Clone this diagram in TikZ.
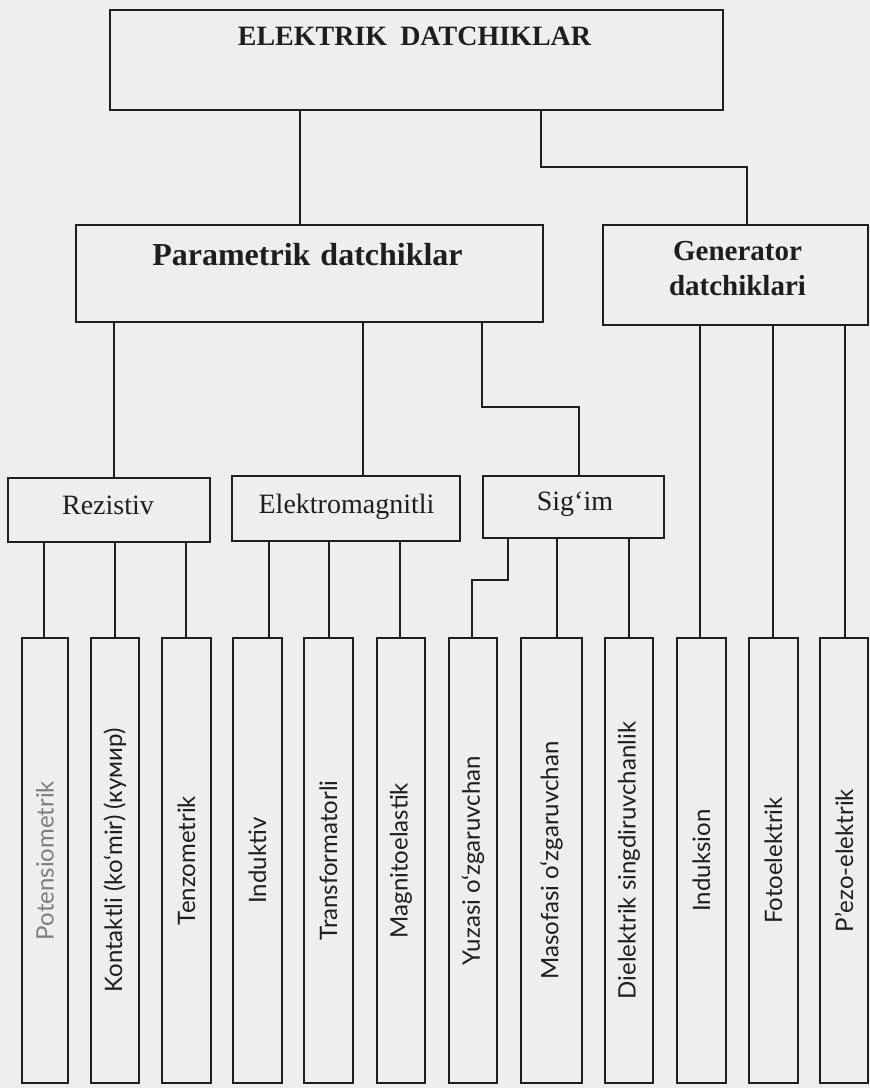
\documentclass[tikz,border=0pt]{standalone}
\usepackage{fontspec}
\setmainfont{Liberation Serif}
\newfontfamily\leaffont{Lato}
\definecolor{paper}{RGB}{238,237,240}
\definecolor{ink}{RGB}{30,30,32}
\definecolor{faded}{RGB}{125,125,130}
\begin{document}
\begin{tikzpicture}[x=1pt,y=-1pt,
  box/.style={draw=ink, line width=1.6pt, rectangle, inner sep=0pt},
  leaf/.style={box, minimum height=445pt, font=\leaffont\fontsize{24}{24}\selectfont, text=ink},
  wire/.style={draw=ink, line width=1.5pt},
  boldtxt/.style={font=\bfseries\fontsize{#1}{#1}\selectfont, text=ink, anchor=base, inner sep=0pt},
  plaintxt/.style={font=\fontsize{28}{28}\selectfont, text=ink, anchor=base, inner sep=0pt}
]
\fill[paper] (0,0) rectangle (870,1088);
\useasboundingbox (0,0) rectangle (870,1088);

% boxes
\node[box, minimum width=613pt, minimum height=100pt] (top) at (416.5,60) {};
\node[box, minimum width=467pt, minimum height=97pt] (param) at (309.5,273.5) {};
\node[box, minimum width=265pt, minimum height=100pt] (gen) at (735.5,275) {};
\node[box, minimum width=202pt, minimum height=64pt] (rez) at (109,510) {};
\node[box, minimum width=228pt, minimum height=65pt] (elm) at (346,508.5) {};
\node[box, minimum width=181pt, minimum height=62pt] (sig) at (573.5,507) {};

% texts
\node[boldtxt=28] (ttop) at (414.5,45) {ELEKTRIK\hspace{13pt}DATCHIKLAR};
\node[boldtxt=32] (tparam) at (307.5,265) {Parametrik\hspace{10pt}datchiklar};
\node[boldtxt=29] (tgen1) at (737.5,260) {Generator};
\node[boldtxt=29] (tgen2) at (737.5,295) {datchiklari};
\node[plaintxt] (trez) at (108,514) {Rezistiv};
\node[plaintxt] (telm) at (346.5,513) {Elektromagnitli};
\node[plaintxt] (tsig) at (575,510) {Sig‘im};

% leaves
\node[leaf, minimum width=46pt] (l1) at (45,860.5) {\rotatebox{90}{\textcolor{faded}{Potensiometrik}}};
\node[leaf, minimum width=48pt] (l2) at (115,860.5) {\rotatebox{90}{Kontaktli (ko‘mir) (кумир)}};
\node[leaf, minimum width=49pt] (l3) at (186.5,860.5) {\rotatebox{90}{Tenzometrik}};
\node[leaf, minimum width=49pt] (l4) at (257.5,860.5) {\rotatebox{90}{Induktiv}};
\node[leaf, minimum width=49pt] (l5) at (328.5,860.5) {\rotatebox{90}{Transformatorli}};
\node[leaf, minimum width=48pt] (l6) at (401,860.5) {\rotatebox{90}{Magnitoelastik}};
\node[leaf, minimum width=48pt] (l7) at (473,860.5) {\rotatebox{90}{Yuzasi o‘zgaruvchan}};
\node[leaf, minimum width=61pt] (l8) at (551.5,860.5) {\rotatebox{90}{Masofasi o‘zgaruvchan}};
\node[leaf, minimum width=48pt] (l9) at (629,860.5) {\rotatebox{90}{Dielektrik singdiruvchanlik}};
\node[leaf, minimum width=49pt] (l10) at (701.5,860.5) {\rotatebox{90}{Induksion}};
\node[leaf, minimum width=49pt] (l11) at (773.5,860.5) {\rotatebox{90}{Fotoelektrik}};
\node[leaf, minimum width=48pt] (l12) at (844,860.5) {\rotatebox{90}{P’ezo-elektrik}};

% connector coordinates
\coordinate (xa) at (300,0);
\coordinate (g1) at (541,167);
\coordinate (g2) at (747,167);
\coordinate (xr) at (114,0);
\coordinate (xe) at (363,0);
\coordinate (s1) at (482,407);
\coordinate (s2) at (579,407);
\coordinate (x1) at (44,0);
\coordinate (x2) at (115,0);
\coordinate (x3) at (186,0);
\coordinate (x4) at (269,0);
\coordinate (x5) at (329,0);
\coordinate (x6) at (400,0);
\coordinate (y1) at (508,580);
\coordinate (y2) at (472,580);
\coordinate (x8) at (557,0);
\coordinate (x9) at (629,0);
\coordinate (x10) at (700,0);
\coordinate (x11) at (773,0);
\coordinate (x12) at (845,0);

% connectors
\draw[wire] (top.south -| xa) -- (param.north -| xa);
\draw[wire] (top.south -| g1) -- (g1) -- (g2) -- (gen.north -| g2);
\draw[wire] (param.south -| xr) -- (rez.north -| xr);
\draw[wire] (param.south -| xe) -- (elm.north -| xe);
\draw[wire] (param.south -| s1) -- (s1) -- (s2) -- (sig.north -| s2);
\draw[wire] (rez.south -| x1) -- (l1.north -| x1);
\draw[wire] (rez.south -| x2) -- (l2.north -| x2);
\draw[wire] (rez.south -| x3) -- (l3.north -| x3);
\draw[wire] (elm.south -| x4) -- (l4.north -| x4);
\draw[wire] (elm.south -| x5) -- (l5.north -| x5);
\draw[wire] (elm.south -| x6) -- (l6.north -| x6);
\draw[wire] (sig.south -| y1) -- (y1) -- (y2) -- (l7.north -| y2);
\draw[wire] (sig.south -| x8) -- (l8.north -| x8);
\draw[wire] (sig.south -| x9) -- (l9.north -| x9);
\draw[wire] (gen.south -| x10) -- (l10.north -| x10);
\draw[wire] (gen.south -| x11) -- (l11.north -| x11);
\draw[wire] (gen.south -| x12) -- (l12.north -| x12);
\end{tikzpicture}
\end{document}
